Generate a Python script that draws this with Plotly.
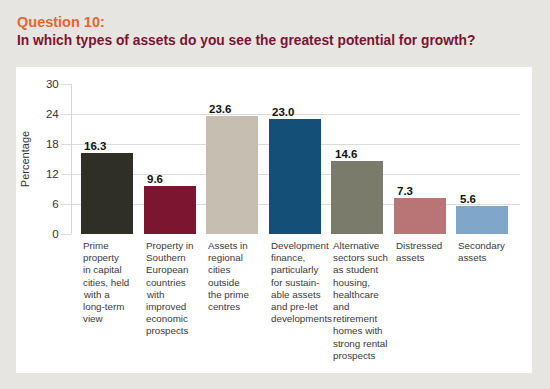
import plotly.graph_objects as go

categories = [
    "Prime<br>property<br>in capital<br>cities, held<br>with a<br>long-term<br>view",
    "Property in<br>Southern<br>European<br>countries<br>with<br>improved<br>economic<br>prospects",
    "Assets in<br>regional<br>cities<br>outside<br>the prime<br>centres",
    "Development<br>finance,<br>particularly<br>for sustain-<br>able assets<br>and pre-let<br>developments",
    "Alternative<br>sectors such<br>as student<br>housing,<br>healthcare<br>and<br>retirement<br>homes with<br>strong rental<br>prospects",
    "Distressed<br>assets",
    "Secondary<br>assets",
]
values = [16.3, 9.6, 23.6, 23.0, 14.6, 7.3, 5.6]
colors = ["#2f2f27", "#7b1530", "#c7beb2", "#144f77", "#7a7b6b", "#b97576", "#80a7c9"]
y_ticks = [0, 6, 12, 18, 24, 30]

xs = list(range(len(values)))
BW = 0.83
FONT = "Liberation Sans, Arial"

L, R, T, B = 72, 30, 84, 155
W, H = 550, 389
pw, ph = W - L - R, H - T - B


def px(xp):
    return (xp - L) / pw


def py(yp):
    return (H - B - yp) / ph


fig = go.Figure()
fig.add_trace(go.Bar(x=xs, y=values, width=BW, marker=dict(color=colors, line=dict(width=0)),
                     hoverinfo="skip"))

ann = []
LINE_H = 12.2
for i, (c, v) in enumerate(zip(categories, values)):
    for k, line in enumerate(c.split("<br>")):
        ann.append(dict(x=i - BW / 2, y=py(238 + k * LINE_H), xref="x", yref="paper", text=line,
                        showarrow=False, xanchor="left", yanchor="top", align="left",
                        font=dict(family=FONT, size=9.8, color="#3a3a3a")))
    ann.append(dict(x=i - BW / 2 + 0.02, y=v, xref="x", yref="y", text=f"<b>{v:.1f}</b>",
                    showarrow=False, xanchor="left", yanchor="bottom", yshift=-1,
                    font=dict(family=FONT, size=11.5, color="#111111")))

ann.append(dict(x=px(15), y=py(12), xref="paper", yref="paper", text="<b>Question 10:</b>",
                showarrow=False, xanchor="left", yanchor="top",
                font=dict(family=FONT, size=14.5, color="#e8672d")))
ann.append(dict(x=px(15), y=py(31), xref="paper", yref="paper",
                text="<b>In which types of assets do you see the greatest potential for growth?</b>",
                showarrow=False, xanchor="left", yanchor="top",
                font=dict(family=FONT, size=13.8, color="#7a1432")))

shapes = [dict(type="rect", xref="paper", yref="paper", x0=px(16), x1=px(532), y0=py(373), y1=py(67),
               fillcolor="white", line=dict(width=0), layer="below")]

fig.update_layout(
    width=W, height=H,
    margin=dict(l=L, r=R, t=T, b=B),
    paper_bgcolor="#e6e5e1",
    plot_bgcolor="rgba(0,0,0,0)",
    showlegend=False,
    annotations=ann,
    shapes=shapes,
    xaxis=dict(range=[-0.56, 6.6], showticklabels=False, showgrid=False, zeroline=False,
               showline=False, fixedrange=True),
    yaxis=dict(range=[0, 30], tickvals=y_ticks, showgrid=True, gridcolor="#dcdcdc", gridwidth=1,
               zeroline=False, showline=True, linecolor="#d6d6d6", linewidth=1,
               ticks="outside", ticklen=10, tickcolor="#dcdcdc",
               tickfont=dict(family=FONT, size=11.5, color="#333333"),
               title=dict(text="Percentage", standoff=14,
                          font=dict(family=FONT, size=11, color="#333333")),
               fixedrange=True),
    bargap=0,
)

fig.write_html("out.html", config={"displayModeBar": False},
               post_script="document.body.style.margin='0';document.body.style.padding='0';")
